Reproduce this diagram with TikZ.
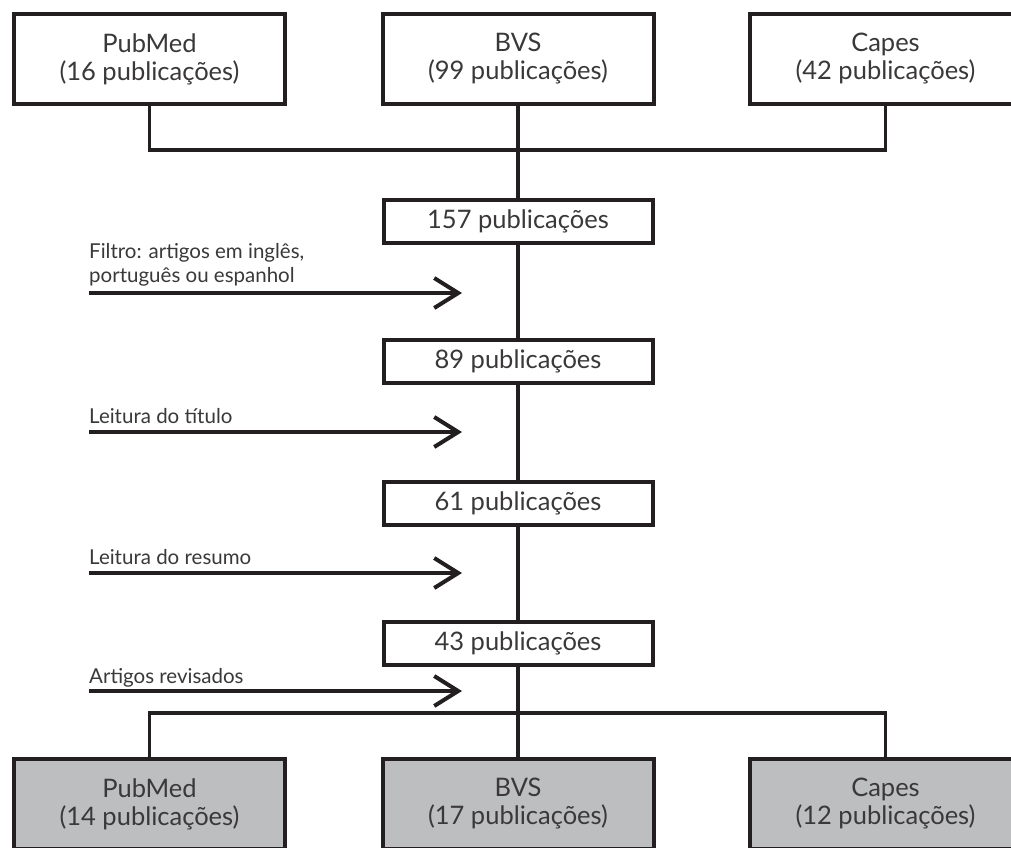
\documentclass[tikz,border=0pt]{standalone}
\usepackage{fontspec}
\setmainfont{Lato}
\usetikzlibrary{positioning,arrows.meta}
\definecolor{ink}{HTML}{231F20}
\definecolor{txt}{HTML}{3A3839}
\definecolor{boxgray}{HTML}{BDBEC0}

\begin{document}
\begin{tikzpicture}[
      x=1pt, y=1pt,
      box/.style={draw=ink, line width=4pt, fill=white, minimum width=271pt, minimum height=90pt, align=center, text=txt, font=\fontsize{25.5}{28}\selectfont},
      gbox/.style={box, fill=boxgray},
      cnt/.style={draw=ink, line width=4pt, fill=white, minimum width=269pt, minimum height=43pt, text=txt, font=\fontsize{25.5}{28}\selectfont},
      lbl/.style={anchor=base west, inner sep=0pt, align=left, text=txt, font=\fontsize{20.5}{24}\selectfont},
      con/.style={draw=ink, line width=3.4pt},
      arr/.style={draw=ink, line width=4pt, -{Straight Barb[length=24pt, width=30pt]}}
    ]
    \clip (0,0) rectangle (1011,-847);

    % Row 1: the three databases
    \node[box] (pubmedA) at (149.5,-59) {PubMed\\(16 publicações)};
    \node[box] (bvsA)    at (518,-59)   {BVS\\(99 publicações)};
    \node[box] (capesA)  at (885.5,-59) {Capes\\(42 publicações)};

    % Middle column: counts after each filter
    \node[cnt] (n157) at (518,-221.5) {157 publicações};
    \node[cnt] (n89)  at (518,-361.5) {89 publicações};
    \node[cnt] (n61)  at (518,-503)   {61 publicações};
    \node[cnt] (n43)  at (518,-643)   {43 publicações};

    % Last row: selected articles per database
    \node[gbox] (pubmedB) at (149.5,-804) {PubMed\\(14 publicações)};
    \node[gbox] (bvsB)    at (518,-804)   {BVS\\(17 publicações)};
    \node[gbox] (capesB)  at (885.5,-804) {Capes\\(12 publicações)};

    % Filter labels and arrows
    \node[lbl] (filtro)  at (89,-282) {Filtro: artigos em inglês,\\português ou espanhol};
    \node[lbl] (titulo)  at (89,-423) {Leitura do título};
    \node[lbl] (resumo)  at (89,-564) {Leitura do resumo};
    \node[lbl] (revisao) at (89,-683) {Artigos revisados};

    \coordinate (a1s) at (89,-293);  \coordinate (a1e) at (462,-293);
    \coordinate (a2s) at (89,-432);  \coordinate (a2e) at (462,-432);
    \coordinate (a3s) at (89,-573);  \coordinate (a3e) at (462,-573);
    \coordinate (a4s) at (89,-691);  \coordinate (a4e) at (462,-691);

    % Connectors
    \draw[con] (pubmedA.south) -- ++(0,-44) -| (capesA.south);
    \draw[con] (bvsA) -- (n157);
    \draw[con] (n157) -- (n89);
    \draw[con] (n89) -- (n61);
    \draw[con] (n61) -- (n43);
    \draw[con] (n43) -- (bvsB);
    \draw[con] (pubmedB.north) -- ++(0,44) -| (capesB.north);

    \draw[arr] (a1s) -- (a1e);
    \draw[arr] (a2s) -- (a2e);
    \draw[arr] (a3s) -- (a3e);
    \draw[arr] (a4s) -- (a4e);
  \end{tikzpicture}
\end{document}
